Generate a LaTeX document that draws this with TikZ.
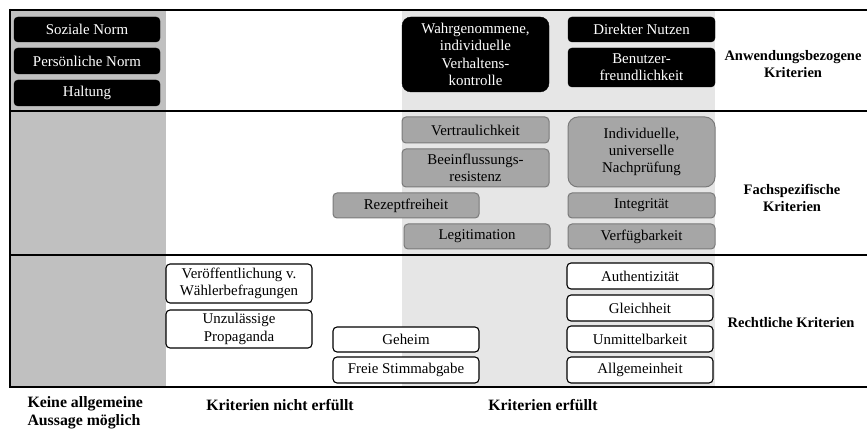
\documentclass[tikz,border=0pt]{standalone}
\usepackage{fontspec}
\setmainfont{Liberation Serif}
\usepackage{xcolor}
\usepackage{tikz}

\definecolor{spalteDunkel}{HTML}{C0C0C0}
\definecolor{spalteHell}{HTML}{E6E6E6}
\definecolor{kastenGrau}{HTML}{A6A6A6}
\definecolor{randGrau}{HTML}{7A7A7A}

\tikzset{
    kasten/.style={rounded corners=4pt, minimum width=146pt, minimum height=25pt,
        inner sep=0pt, align=center, font=\fontsize{14.9}{17.3}\selectfont},
    schwarz/.style={kasten, fill=black, draw=black, text=white},
    grau/.style={kasten, fill=kastenGrau, draw=randGrau, line width=1pt},
    weiss/.style={kasten, fill=white, draw=black, line width=1.1pt},
    titel/.style={font=\bfseries\fontsize{14.5}{17}\selectfont, align=center},
    unten/.style={titel, font=\bfseries\fontsize{15.8}{18}\selectfont},
    rahmen/.style={line width=2pt}
}

\begin{document}
\begin{tikzpicture}[x=1pt, y=-1pt]
        \useasboundingbox (0,0) rectangle (867,430);

        % Spalten
        \fill[spalteDunkel] (11,11) rectangle (166,387);
        \fill[spalteHell] (402,11) rectangle (715,387);

        % Rahmen
        \draw[rahmen] (10,10) -- (867,10);
        \draw[rahmen] (10,111) -- (867,111);
        \draw[rahmen] (10,255) -- (867,255);
        \draw[rahmen] (10,387) -- (867,387);
        \draw[rahmen] (10,9) -- (10,388);

        % Anwendungsbezogene Kriterien
        \node[schwarz] (soziale) at (87,29.5) {Soziale Norm};
        \node[schwarz, minimum height=26pt] (persoenlich) at (87,61) {Persönliche Norm};
        \node[schwarz, minimum height=26pt] (haltung) at (87,93) {Haltung};
        \node[schwarz, minimum width=147pt, minimum height=75pt, rounded corners=9pt] (wahrgenommen) at (475.5,54.5)
            {Wahrgenommene,\\individuelle\\Verhaltens-\\kontrolle};
        \node[schwarz, minimum width=147pt] (nutzen) at (641.5,29.5) {Direkter Nutzen};
        \node[schwarz, minimum width=147pt, minimum height=39pt] (benutzer) at (641.5,67.5)
            {Benutzer-\\freundlichkeit};

        % Fachspezifische Kriterien
        \node[grau, minimum width=147pt, minimum height=26pt] (vertraulich) at (475.5,130) {Vertraulichkeit};
        \node[grau, minimum width=147pt, minimum height=38pt] (beeinfluss) at (475.5,168)
            {Beeinflussungs-\\resistenz};
        \node[grau] (rezept) at (406,205.5) {Rezeptfreiheit};
        \node[grau] (legitim) at (477,236.5) {Legitimation};
        \node[grau, minimum width=147pt, minimum height=70pt, rounded corners=10pt] (nachpruef) at (641.5,152)
            {Individuelle,\\universelle\\Nachprüfung};
        \node[grau, minimum width=147pt] (integritaet) at (641.5,205.5) {Integrität};
        \node[grau, minimum width=147pt] (verfueg) at (641.5,236.5) {Verfügbarkeit};

        % Rechtliche Kriterien
        \node[weiss, minimum height=39pt] (umfragen) at (239,283.5)
            {Veröffentlichung v.\\Wählerbefragungen};
        \node[weiss, minimum height=38pt] (propaganda) at (239,329) {Unzulässige\\Propaganda};
        \node[weiss] (geheim) at (406,339.5) {Geheim};
        \node[weiss, minimum height=26pt] (freie) at (406,370) {Freie Stimmabgabe};
        \node[weiss, minimum height=26pt] (authent) at (640,276) {Authentizität};
        \node[weiss, minimum height=26pt] (gleich) at (640,308) {Gleichheit};
        \node[weiss, minimum height=26pt] (unmittel) at (640,339) {Unmittelbarkeit};
        \node[weiss, minimum height=26pt] (allgemein) at (640,370) {Allgemeinheit};

        % Beschriftungen
        \node[titel] (anwendung) at (793,64.5) {Anwendungsbezogene\\Kriterien};
        \node[titel] (fach) at (792,198) {Fachspezifische\\Kriterien};
        \node[titel] (recht) at (791,323) {Rechtliche Kriterien};
        \node[unten, align=left, anchor=west] (keine) at (24,412.5)
            {Keine allgemeine\\Aussage möglich};
        \node[unten] (nicht) at (280,405) {Kriterien nicht erfüllt};
        \node[unten] (erfuellt) at (543,405) {Kriterien erfüllt};
    \end{tikzpicture}
\end{document}
